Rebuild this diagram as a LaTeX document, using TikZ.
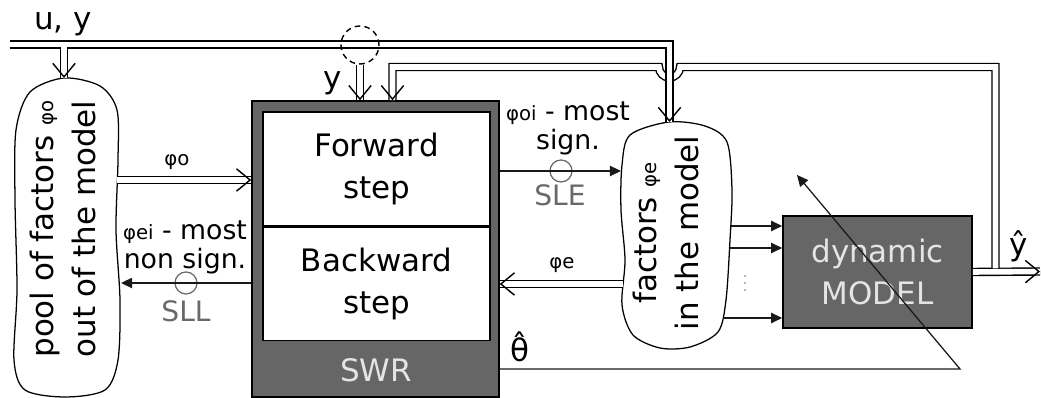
\documentclass[tikz,border=0pt]{standalone}
\usepackage{fontspec}
\setmainfont{DejaVu Sans}
\usetikzlibrary{arrows.meta,calc,positioning,decorations.markings}
\definecolor{swrG}{RGB}{102,102,102}
\definecolor{txtL}{RGB}{228,228,228}
\definecolor{sigG}{RGB}{105,105,105}
\newcommand{\bigtxt}{\fontsize{22}{30.5}\selectfont}
\newcommand{\lbltxt}{\fontsize{19}{20.5}\selectfont}
\newcommand{\phitxt}{\fontsize{14}{15}\selectfont}

\begin{document}
\begin{tikzpicture}[x=0.025cm,y=-0.025cm,>={Triangle[length=2.8mm,width=2.6mm]},
  block/.style={draw=black,line width=1.1pt,fill=swrG,inner sep=0pt},
  stepbox/.style={draw=black,line width=1pt,fill=white,minimum width=5.675cm,inner sep=0pt,align=center,font=\bigtxt},
  blob/.style={draw=black,line width=0.9pt,fill=white},
  bus/.style={draw=black,double=white,double distance=0.14cm,line width=1pt},
  busto/.style={bus,postaction={decorate,decoration={markings,
    mark=at position 1 with {\arrow[line width=1pt]{Straight Barb[length=3.4mm,width=5.6mm]}}}}},
  sig/.style={->,draw=black!90,line width=0.9pt},
  sel/.style={circle,draw=sigG,line width=0.9pt,minimum size=0.55cm,inner sep=0pt},
  seltxt/.style={text=sigG,font=\fontsize{20}{22}\selectfont,anchor=base},
  lbl/.style={font=\lbltxt,align=center,inner sep=0pt}]
\useasboundingbox (0,0) rectangle (1041,398);
% factor pools
\draw[blob] plot[smooth cycle] coordinates {(64,78) (100,86) (117,110) (118,160) (116,230) (120,300) (118,360) (105,390) (65,397) (25,390) (14,360) (17,290) (15,200) (16,130) (30,92)};
\node[rotate=90,align=center,font=\bigtxt] (pool) at (63,229) {pool of factors {\phitxt φo}\\out of the model};
\draw[blob] plot[smooth cycle] coordinates {(669,122) (705,126) (727,142) (732,190) (730,240) (726,300) (718,332) (690,347) (660,348) (633,335) (622,305) (625,260) (621,210) (622,165) (630,135)};
\node[rotate=90,align=center,font=\bigtxt] (infac) at (666,233) {factors {\phitxt φe}\\in the model};
% SWR block
\node[block,minimum width=6.175cm,minimum height=7.4cm] (swr) at (375.5,249) {};
\node[stepbox,minimum height=2.85cm] (fwd) at (376.5,169) {Forward\\step};
\node[stepbox,minimum height=2.825cm,below=0pt of fwd] (bwd) {Backward\\step};
\node[font=\bigtxt,text=txtL,anchor=base] (swrlbl) at (376,382) {SWR};
% model
\node[block,minimum width=4.725cm,minimum height=2.8cm,align=center,font=\bigtxt,text=txtL] (model) at (877.5,272) {dynamic\\MODEL};
% bus points
\coordinate (busL) at (10,44.5);
\coordinate (busR) at (669.5,44.5);
\coordinate (facTop) at (669.5,122);
\coordinate (uyTap) at (64,47.5);
\coordinate (poolTop) at (64,78);
\coordinate (outTap) at (995.5,268.5);
\coordinate (outEnd) at (1040,271.5);
\coordinate (fbR) at (995.5,67);
\coordinate (hopR) at (680,67);
\coordinate (fbL) at (392.5,67);
% output and feedback of y hat
\draw[busto] (model.east) -- (outEnd);
\draw[busto] (outTap) -- (fbR) -- (hopR) arc[start angle=0,end angle=-180,radius=0.2625cm] -- (fbL) -- (fbL |- swr.north);
% u, y bus
\draw[busto] (busL) -- (busR) -- (facTop);
\draw[busto] (uyTap) -- (poolTop);
\node[circle,draw=black,dash pattern=on 4pt off 3pt,line width=1pt,minimum size=0.95cm,inner sep=0pt] (tap) at (360,45) {};
\draw[busto] (tap.south) -- (tap.south |- swr.north);
\node[font=\bigtxt,anchor=base] (uy) at (63,30) {u, y};
\node[font=\bigtxt,anchor=base] (ylbl) at (333,89) {y};
\node[font=\bigtxt,anchor=base] (yhat) at (1019,256) {ŷ};
% factor exchange
\coordinate (poolR) at (117,180);
\coordinate (facL) at (623,284);
\draw[busto] (poolR) -- (poolR -| swr.west);
\node[font=\phitxt] (phio) at (177,162) {φo};
\draw[busto] (facL) -- (facL -| swr.east);
\node[font=\phitxt] (phie) at (562,265) {φe};
\node[sel] (sle) at (561,171) {};
\coordinate (facSLE) at (621,171);
\draw[sig] (swr.east |- sle) -- (facSLE);
\node[seltxt] at (560,206) {SLE};
\node[lbl] (lblsle) at (568,128) {{\phitxt φoi} - most\\sign.};
\node[sel] (sll) at (186,283) {};
\coordinate (poolSLL) at (121,283);
\draw[sig] (swr.west |- sll) -- (poolSLL);
\node[seltxt] at (186,322) {SLL};
\node[lbl] (lblsll) at (185,247) {{\phitxt φei} - most\\non sign.};
% factors into the model
\foreach \i/\x/\y in {1/731/226,2/730/248,3/723/318} {
  \coordinate (m\i) at (\x,\y);
  \draw[sig] (m\i) -- (m\i -| model.west);
}
\foreach \y in {276,283,290} \fill[sigG] (745,\y) circle[radius=0.7pt];
% parameter estimate
\coordinate (thEnd) at (960,369);
\coordinate (thTip) at (797,175);
\draw[sig] (swr.east |- thEnd) -- (thEnd) -- (thTip);
\node[font=\bigtxt,anchor=base] (thhat) at (520,362) {θ̂};
\end{tikzpicture}
\end{document}
